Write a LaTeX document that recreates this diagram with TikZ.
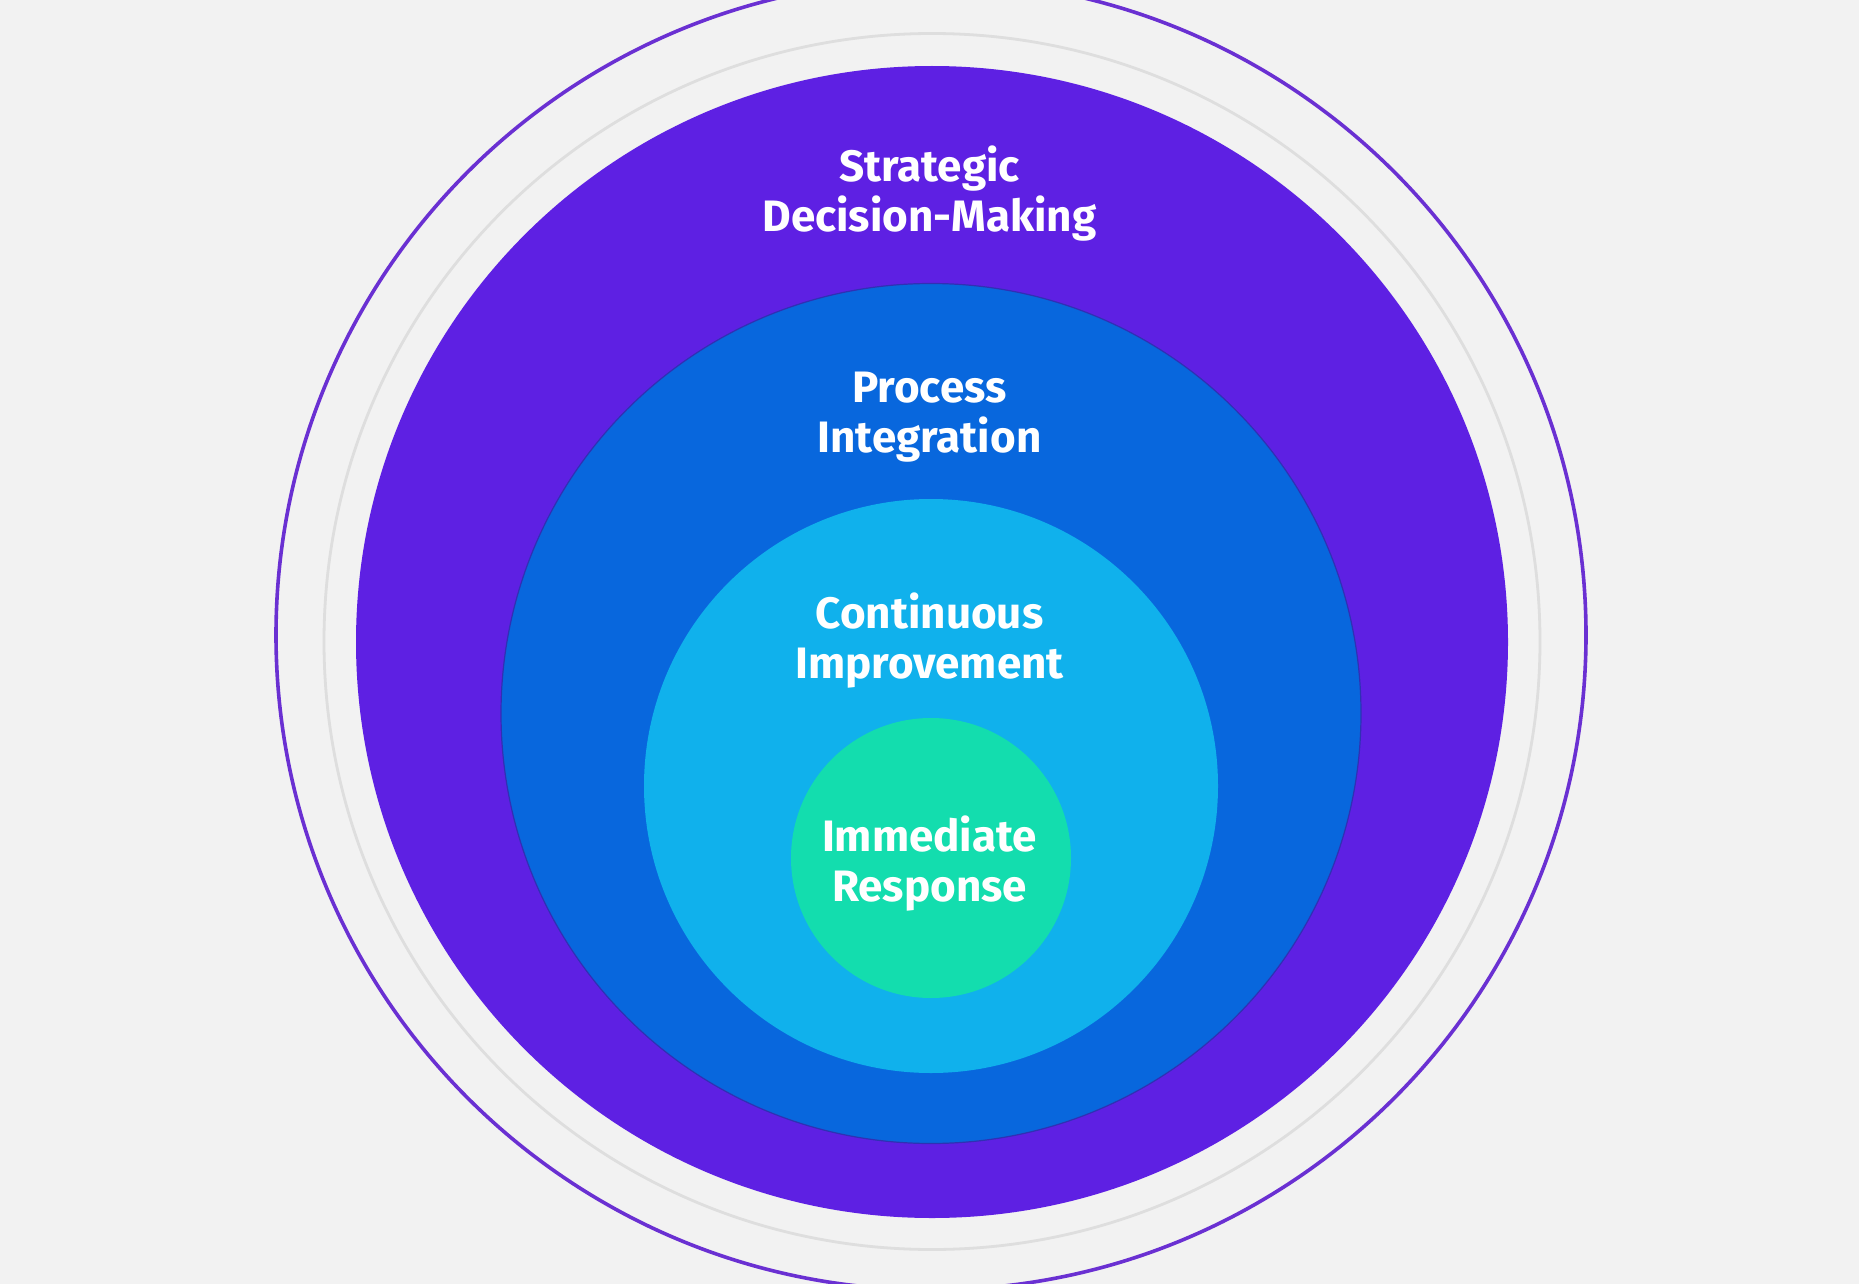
\documentclass[tikz,border=0pt]{standalone}
\usepackage{fontspec}
\setmainfont{Fira Sans}
\definecolor{bgc}{HTML}{F2F2F2}
\definecolor{ringpurple}{HTML}{6A30D2}
\definecolor{ringgray}{HTML}{DEDEDE}
\definecolor{cpurple}{HTML}{5E20E3}
\definecolor{cblue}{HTML}{0867DD}
\definecolor{clight}{HTML}{10B1EC}
\definecolor{cgreen}{HTML}{13DDAE}
\begin{document}
\begin{tikzpicture}[x=0.5pt,y=-0.5pt,
  disc/.style={circle,inner sep=0pt,outer sep=0pt},
  lbl/.style={text=white,align=center,font=\fontsize{22pt}{25pt}\selectfont\bfseries}]
\fill[bgc] (0,0) rectangle (1859,1284);
\useasboundingbox (0,0) rectangle (1859,1284);
\node[disc,draw=ringpurple,line width=1.8pt,minimum size=655pt] (outerring) at (931,635) {};
\node[disc,draw=ringgray,line width=1.4pt,minimum size=608pt] (grayring) at (932,641.5) {};
\node[disc,fill=cpurple,minimum size=576pt] (strategic) at (932,642) {};
\node[disc,fill=cblue,draw=cpurple!60!cblue!80!black,line width=0.6pt,minimum size=430pt] (process) at (931,713.5) {};
\node[disc,fill=clight,minimum size=287pt] (continuous) at (931,786) {};
\node[disc,fill=cgreen,minimum size=140pt] (immediate) at (931,858) {};
\node[lbl] (t1) at (929.5,194) {Strategic\\Decision-Making};
\node[lbl] (t2) at (929.5,417) {Process\\Integration};
\node[lbl] (t3) at (929.5,641) {Continuous\\Improvement};
\node[lbl] (t4) at (929.5,864) {Immediate\\Response};
\end{tikzpicture}
\end{document}
